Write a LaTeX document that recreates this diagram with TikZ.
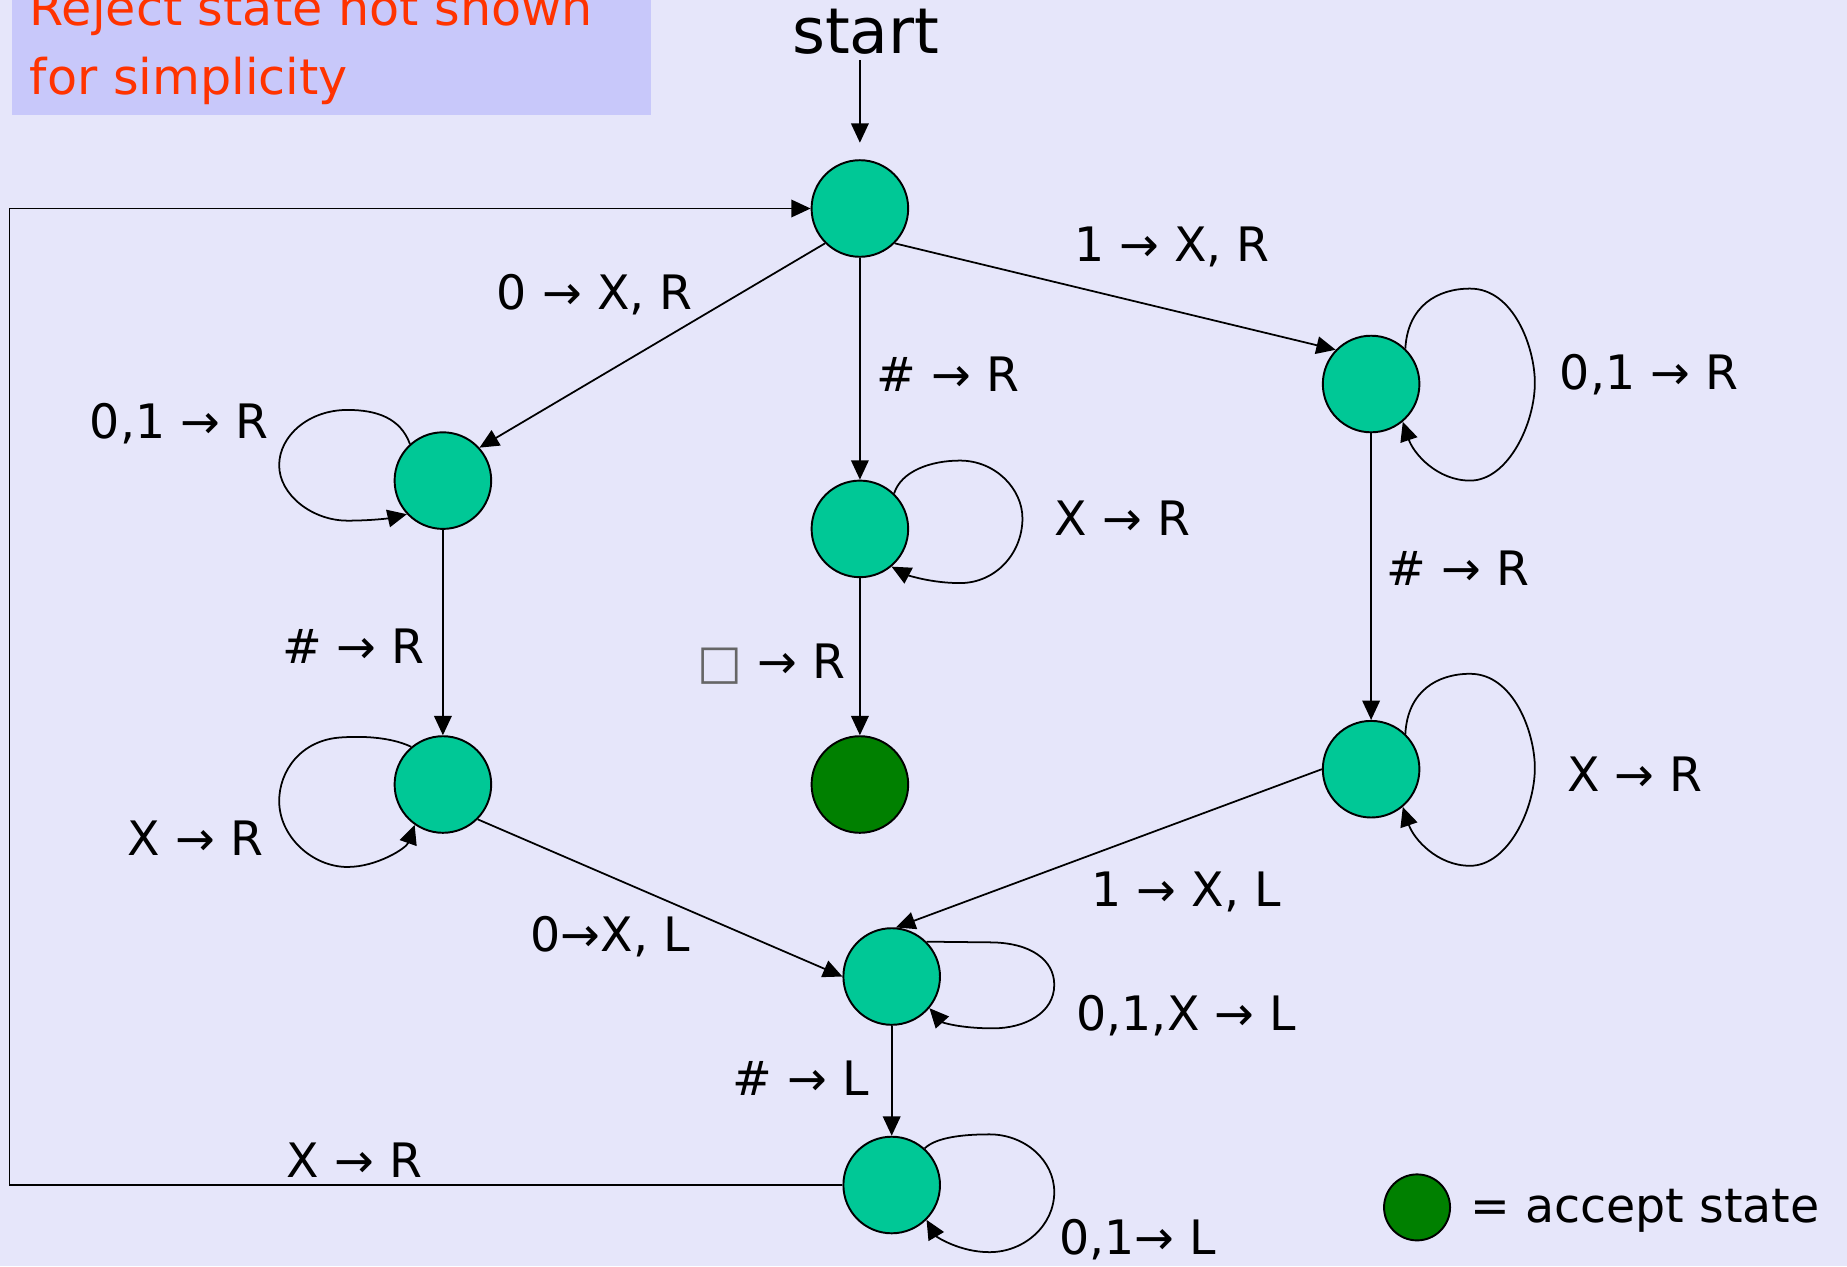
\documentclass[tikz,border=0pt]{standalone}
\usepackage{fontspec}
\setmainfont{DejaVu Sans}
\usetikzlibrary{arrows.meta}
\definecolor{bg}{RGB}{230,230,250}
\definecolor{boxc}{RGB}{200,200,250}
\definecolor{st}{RGB}{0,200,150}
\definecolor{accc}{RGB}{0,128,0}
\definecolor{redt}{RGB}{255,51,0}
\begin{document}
\begin{tikzpicture}[x=0.02356cm,y=-0.02356cm,
  state/.style={circle,draw,fill=st,minimum size=1.932cm,inner sep=0pt,line width=1.1pt},
  accstate/.style={circle,draw,fill=accc,minimum size=1.932cm,inner sep=0pt,line width=1.1pt},
  lbl/.style={font=\fontsize{27}{32}\selectfont,inner sep=0pt},
  edge/.style={line width=1pt,-{Triangle[length=11pt,width=10pt]}}]
\useasboundingbox (0,0) rectangle (1568,1075);
\fill[bg] (0,0) rectangle (1568,1075);
\fill[boxc] (10,-5) rectangle (553,98);
\node[anchor=base west,inner sep=0pt,text=redt,font=\fontsize{28}{32}\selectfont] (rej1) at (25,22) {Reject state not shown};
\node[anchor=base west,inner sep=0pt,text=redt,font=\fontsize{28}{32}\selectfont] (rej2) at (25,80) {for simplicity};

% states
\node[state] (q1) at (730,177) {};
\node[state] (q2) at (376,408) {};
\node[state] (q3) at (730,449) {};
\node[state] (q4) at (1164,326) {};
\node[accstate] (qa) at (730,666) {};
\node[state] (q5) at (376,666) {};
\node[state] (q6) at (1164,653) {};
\node[state] (q7) at (757,829) {};
\node[state] (q8) at (757,1006) {};
\node[circle,draw,fill=accc,minimum size=1.32cm,inner sep=0pt,line width=1.1pt] (leg) at (1203,1025) {};
\node[lbl,anchor=west] (legt) at (1248,1028) {= accept state};

% start
\node[font=\fontsize{36}{40}\selectfont,inner sep=0pt,anchor=base] (start) at (735,45) {start};
\draw[edge,shorten >=0.33cm] (start.south -| q1) ++(0,5) -- (q1.north);

% edges
\draw[edge] (q1.225) -- (q2.42);
\draw[edge] (q1.-45) -- (q4.136);
\draw[edge] (q1) -- (q3);
\draw[edge] (q2) -- (q5);
\draw[edge] (q3) -- (qa);
\draw[edge] (q4) -- (q6);
\draw[edge] (q5.-45) -- (q7.180);
\draw[edge] (q6.180) -- (q7.85);
\draw[edge] (q7) -- (q8);
\coordinate (lx) at (8,0);
\draw[edge] (q8.west) -- (q8.west -| lx) |- (q1.west);

% loops
\draw[edge] (q2.132) .. controls (340,355) and (320,348) .. (295,348)
  .. controls (262,348) and (237,370) .. (237,395)
  .. controls (237,420) and (265,442) .. (295,442)
  .. controls (315,442) and (330,440) .. (q2.-137);
\draw[edge] (q3.46) .. controls (765,400) and (790,391) .. (815,391)
  .. controls (845,391) and (868,415) .. (868,440)
  .. controls (868,470) and (845,495) .. (815,495)
  .. controls (790,495) and (770,488) .. (q3.-50);
\draw[edge] (q4.46) .. controls (1195,260) and (1220,245) .. (1248,245)
  .. controls (1285,245) and (1303,295) .. (1303,325)
  .. controls (1303,360) and (1280,408) .. (1248,408)
  .. controls (1220,408) and (1200,385) .. (q4.-50);
\draw[edge] (q6.46) .. controls (1195,587) and (1220,572) .. (1248,572)
  .. controls (1285,572) and (1303,622) .. (1303,652)
  .. controls (1303,687) and (1280,735) .. (1248,735)
  .. controls (1220,735) and (1200,712) .. (q6.-50);
\draw[edge] (q5.130) .. controls (330,625) and (305,625) .. (290,626)
  .. controls (255,628) and (237,655) .. (237,680)
  .. controls (237,710) and (265,736) .. (295,736)
  .. controls (320,736) and (345,720) .. (q5.-125);
\draw[edge] (q7.45) -- (840,800)
  .. controls (875,800) and (895,815) .. (895,836)
  .. controls (895,860) and (870,873) .. (843,873)
  .. controls (815,873) and (800,868) .. (q7.-40);
\draw[edge] (q8.48) .. controls (795,965) and (820,963) .. (840,963)
  .. controls (870,963) and (895,985) .. (895,1012)
  .. controls (895,1040) and (870,1063) .. (840,1063)
  .. controls (815,1063) and (795,1050) .. (q8.-45);

% labels
\node[lbl] (l1) at (995,210) {1 → X, R};
\node[lbl] (l2) at (505,250) {0 → X, R};
\node[lbl] (l3) at (805,318) {\# → R};
\node[lbl] (l4) at (1400,318) {0,1 → R};
\node[lbl] (l5) at (152,360) {0,1 → R};
\node[lbl] (l6) at (953,440) {X → R};
\node[lbl] (l7) at (1238,482) {\# → R};
\node[lbl] (l8) at (300,549) {\# → R};
\node[lbl] (l9) at (655,564) {{\color{black!60}□} → R};
\node[lbl] (l10) at (1388,657) {X → R};
\node[lbl] (l11) at (166,712) {X → R};
\node[lbl] (l12) at (1007,757) {1 → X, L};
\node[lbl] (l13) at (518,795) {0→X, L};
\node[lbl] (l14) at (1007,862) {0,1,X → L};
\node[lbl] (l15) at (680,915) {\# → L};
\node[lbl] (l16) at (301,985) {X → R};
\node[lbl] (l17) at (966,1052) {0,1→ L};
\end{tikzpicture}
\end{document}
